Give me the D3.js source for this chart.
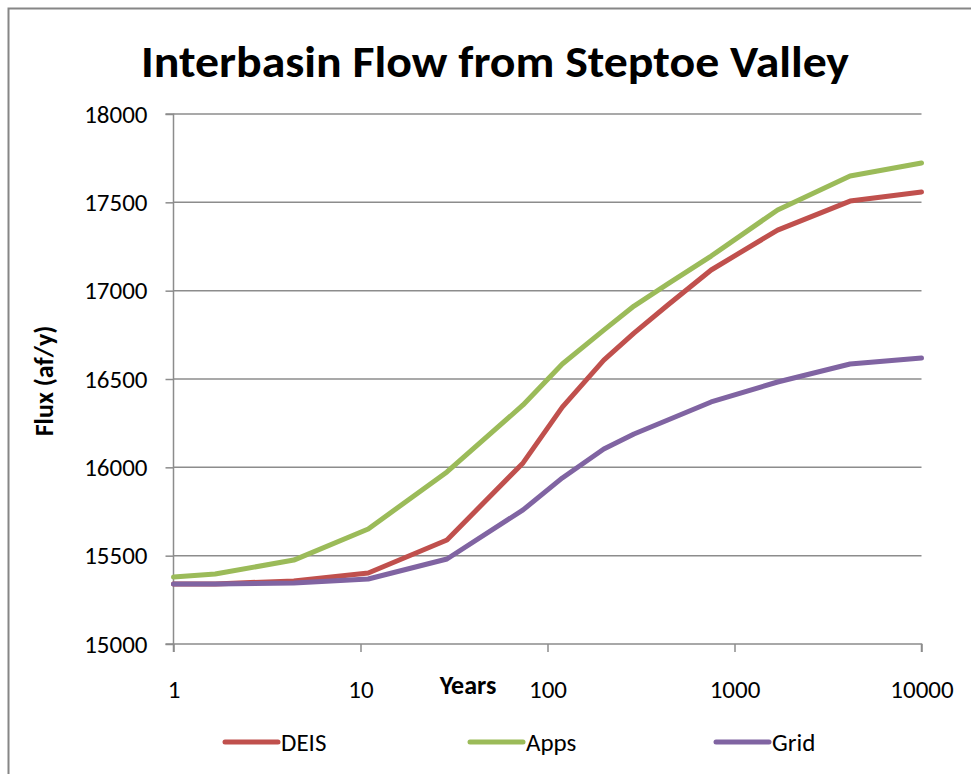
<!DOCTYPE html>
<html><head><meta charset="utf-8">
<script src="https://cdn.jsdelivr.net/npm/d3@7"></script>
<style>body{margin:0;background:#fff;} svg{display:block;}</style>
</head><body>
<svg id="chart" width="971" height="774"></svg>
<script>
const years = [1, 1.67, 4.4, 11, 29, 74, 120, 200, 290, 440, 750, 1700, 4150, 10000];
const deis = [15340, 15340, 15357, 15402, 15589, 16025, 16341, 16607, 16760, 16919, 17117, 17343, 17507, 17558];
const apps = [15379, 15396, 15475, 15651, 15974, 16353, 16585, 16777, 16913, 17038, 17196, 17457, 17649, 17723];
const grid = [15340, 15340, 15345, 15368, 15481, 15759, 15940, 16104, 16189, 16268, 16370, 16483, 16585, 16619];
const seriesNames = ["DEIS", "Apps", "Grid"];
const seriesColors = ["#C0504D", "#9BBB59", "#8064A2"];
const xTicks = [1, 10, 100, 1000, 10000];
const yTicks = [15000, 15500, 16000, 16500, 17000, 17500, 18000];

const svg = d3.select("#chart");
const font = "Calibri, Carlito, 'Open Sans', sans-serif";
const L = 173.5, R = 921.5, T = 114, B = 644;

// outer border
svg.append("path").attr("d", "M8.5,774 V8.5 H971").attr("fill", "none").attr("stroke", "#868686").attr("stroke-width", 2);

const x = d3.scaleLog().domain([1, 10000]).range([L, R]);
const y = d3.scaleLinear().domain([15000, 18000]).range([B, T]);

// gridlines
svg.append("g").selectAll("line").data(yTicks.filter(d => d > 15000)).join("line")
  .attr("x1", L).attr("x2", R).attr("y1", d => y(d)).attr("y2", d => y(d))
  .attr("stroke", "#8c8c8c").attr("stroke-width", 1.5);

// y axis
const yAx = svg.append("g").attr("transform", `translate(${L},0)`)
  .call(d3.axisLeft(y).tickValues(yTicks).tickSize(8).tickPadding(18).tickFormat(d3.format("d")));
yAx.select(".domain").attr("stroke", "#8c8c8c").attr("stroke-width", 1.5).attr("d", `M-8,${T}H0V${B}H-8`);
yAx.selectAll(".tick line").attr("stroke", "#8c8c8c").attr("stroke-width", 1.5);
yAx.selectAll(".tick text").attr("font-family", font).attr("font-size", 25).attr("fill", "#000");

// x axis
const xAx = svg.append("g").attr("transform", `translate(0,${B})`)
  .call(d3.axisBottom(x).tickValues(xTicks).tickSize(8).tickPadding(28).tickFormat(d3.format("d")));
xAx.select(".domain").attr("stroke", "#8c8c8c").attr("stroke-width", 1.5).attr("d", `M${L},8V0H${R}V8`);
xAx.selectAll(".tick line").attr("stroke", "#8c8c8c").attr("stroke-width", 1.5);
xAx.selectAll(".tick text").attr("font-family", font).attr("font-size", 25).attr("fill", "#000");

// lines
const allSeries = [deis, apps, grid];
const line = d3.line().x((d, i) => x(years[i])).y(d => y(d));
allSeries.forEach((s, k) => {
  svg.append("path").datum(s).attr("d", line).attr("fill", "none")
    .attr("stroke", seriesColors[k]).attr("stroke-width", 5)
    .attr("stroke-linejoin", "round").attr("stroke-linecap", "round");
});

// title
svg.append("text").attr("x", 495).attr("y", 77).attr("text-anchor", "middle")
  .attr("font-family", font).attr("font-weight", "bold").attr("font-size", 44)
  .attr("textLength", 708).attr("lengthAdjust", "spacingAndGlyphs")
  .text("Interbasin Flow from Steptoe Valley");

// axis titles
svg.append("text").attr("transform", "translate(53,381) rotate(-90)").attr("text-anchor", "middle")
  .attr("font-family", font).attr("font-weight", "bold").attr("font-size", 26)
  .text("Flux (af/y)");
svg.append("text").attr("x", 468).attr("y", 694).attr("text-anchor", "middle")
  .attr("font-family", font).attr("font-weight", "bold").attr("font-size", 26)
  .text("Years");

// legend
const legX = [225, 470, 716];
seriesNames.forEach((n, k) => {
  svg.append("line").attr("x1", legX[k]).attr("x2", legX[k] + 53).attr("y1", 742).attr("y2", 742)
    .attr("stroke", seriesColors[k]).attr("stroke-width", 5).attr("stroke-linecap", "round");
  svg.append("text").attr("x", legX[k] + 56).attr("y", 751).attr("font-family", font)
    .attr("font-size", 25).text(n);
});
</script>
</body></html>
